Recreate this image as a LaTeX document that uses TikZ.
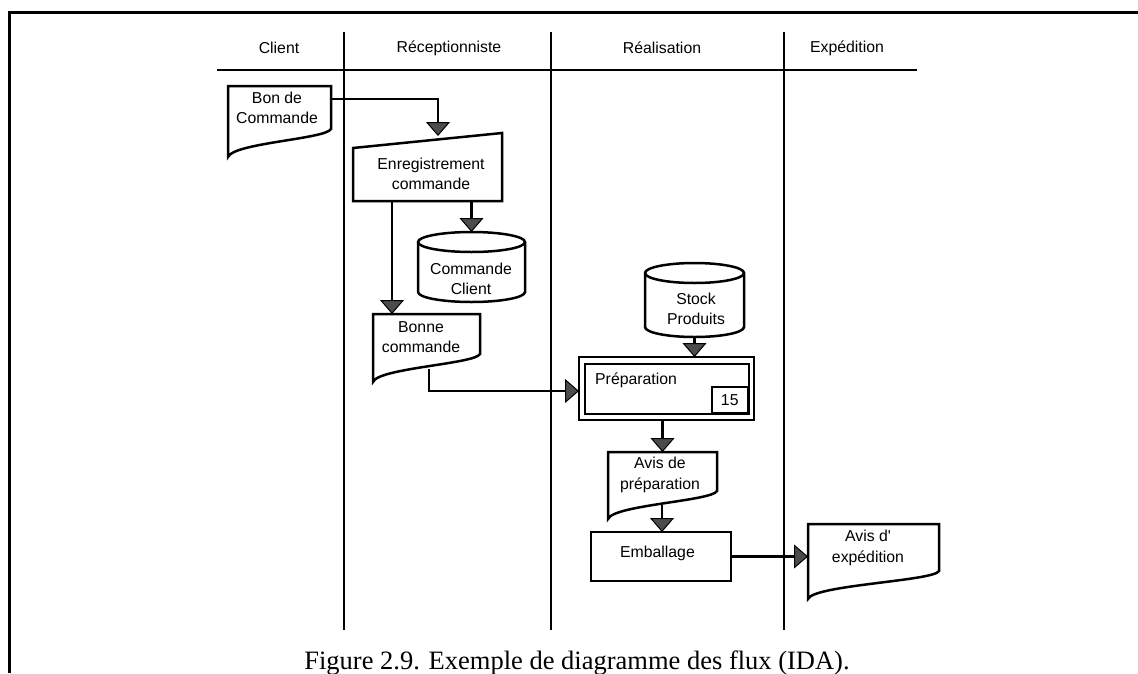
\documentclass[tikz,border=0pt]{standalone}
\usepackage{fontspec}
\setmainfont{Liberation Serif}
\newfontfamily\helv{Liberation Sans}
\usetikzlibrary{arrows.meta,calc}

% document symbol: flat top, wavy bottom edge
\newcommand\drawdocument[1]{%
  \draw[outline] (#1.north west) -- (#1.north east) -- ([yshift=28pt]#1.south east)
    .. controls ([xshift=-5pt,yshift=18pt]#1.south east) and ([xshift=5pt,yshift=14pt]#1.south west)
    .. (#1.south west) -- cycle;}
% data store: cylinder drawn inside the node's box; #2 = half width
\newcommand\drawstore[2]{%
  \draw[outline] ([yshift=-10pt]#1.north west) -- ([yshift=10pt]#1.south west)
    arc[start angle=180, end angle=360, x radius=#2pt, y radius=10pt]
    -- ([yshift=-10pt]#1.north east)
    arc[start angle=0, end angle=180, x radius=#2pt, y radius=10pt] -- cycle;
  \draw[outline] ([yshift=-10pt]#1.north west)
    arc[start angle=180, end angle=360, x radius=#2pt, y radius=10pt];}

\begin{document}
\begin{tikzpicture}[x=1pt,y=-1pt,
  lane/.style={line width=2.6pt},
  outline/.style={draw, line width=2.5pt},
  area/.style={inner sep=0pt, outer sep=0pt},
  words/.style={font=\helv\fontsize{15.8}{20.5}\selectfont, align=center, inner sep=0pt},
  flow/.style={line width=2.5pt, -{Triangle[width=24pt,length=14pt,fill=black!70,line width=1pt]}},
]
\useasboundingbox (0,0) rectangle (1138,673);

% page frame
\draw[line width=3pt] (9,673) -- (9,12) -- (1138,12);

% swimlanes
\draw[lane] (217,70) -- (917,70);
\foreach \x in {344,551,784} \draw[lane] (\x,32) -- (\x,630);
\node[words] (h-client) at (279,48) {Client};
\node[words] (h-recep)  at (449,48) {Réceptionniste};
\node[words] (h-real)   at (662,48) {Réalisation};
\node[words] (h-exped)  at (847,48) {Expédition};

% Bon de Commande
\node[area, minimum width=103pt, minimum height=71pt] (bon) at (279.5,121.5) {};
\drawdocument{bon}
\node[words] (bon-t) at (277,108) {Bon de\\Commande};

% Enregistrement commande (manual input)
\node[area, minimum width=149pt, minimum height=68pt] (enr) at (427.5,167) {};
\draw[outline] (enr.south west) -- ([yshift=-15pt]enr.north west) -- (enr.north east) -- (enr.south east) -- cycle;
\node[words] (enr-t) at (431,174) {Enregistrement\\commande};

% Commande Client store
\node[area, minimum width=107pt, minimum height=70pt] (cc) at (471.5,267) {};
\drawstore{cc}{53.5}
\node[words] (cc-t) at (471,279) {Commande\\Client};

% Bonne commande
\node[area, minimum width=107pt, minimum height=68pt] (bonne) at (426.5,348) {};
\drawdocument{bonne}
\node[words] (bonne-t) at (421,337) {Bonne\\commande};
\coordinate (bonne-out) at (429,369);

% Stock Produits store
\node[area, minimum width=99pt, minimum height=74pt] (stock) at (694.5,300) {};
\drawstore{stock}{49.5}
\node[words] (stock-t) at (696,309) {Stock\\Produits};

% Préparation process
\node[outline, area, minimum width=175pt, minimum height=63pt] (prep) at (666.5,388.5) {};
\draw[outline] ([xshift=6pt,yshift=-7pt]prep.north west) rectangle ([xshift=-5pt,yshift=6pt]prep.south east);
\node[outline, words, minimum width=36pt, minimum height=26pt, anchor=south east] (dur)
  at ([xshift=-5pt,yshift=6pt]prep.south east) {15};
\node[words, anchor=west] (prep-t) at (595,380) {Préparation};

% Avis de préparation
\node[area, minimum width=109pt, minimum height=67pt] (avp) at (662.5,485.5) {};
\drawdocument{avp}
\node[words] (avp-t) at (660,475) {Avis de\\préparation};
\coordinate (avp-out) at (662,505);

% Emballage
\node[outline, area, minimum width=140pt, minimum height=49pt] (emb) at (661,556.5) {};
\node[words] (emb-t) at (657.5,553) {Emballage};

% Avis d'expédition
\node[area, minimum width=131pt, minimum height=75pt] (ade) at (873.5,561.5) {};
\drawdocument{ade}
\node[words] (ade-t) at (868,548) {Avis d'\\expédition};

% flows
\draw[flow] ([yshift=22.5pt]bon.east) -| ([xshift=10.5pt,yshift=-3pt]enr.north);
\draw[flow] (enr.south -| cc.north) -- (cc.north);
\draw[flow] ([xshift=-35.5pt]enr.south) -- ([xshift=-35.5pt]enr.south |- bonne.north);
\draw[flow] (bonne-out) |- ([yshift=-2.5pt]prep.west);
\draw[flow] (stock.south) -- (stock.south |- prep.north);
\draw[flow] (prep.south -| avp.north) -- (avp.north);
\draw[flow] (avp-out) -- (avp-out |- emb.north);
\draw[flow] (emb.east) -- (emb.east -| ade.west);

% caption
\node[font=\fontsize{26.5}{30}\selectfont, anchor=base, inner sep=0pt] (caption) at (577,669)
  {Figure 2.9. Exemple de diagramme des flux (IDA).};
\end{tikzpicture}
\end{document}
